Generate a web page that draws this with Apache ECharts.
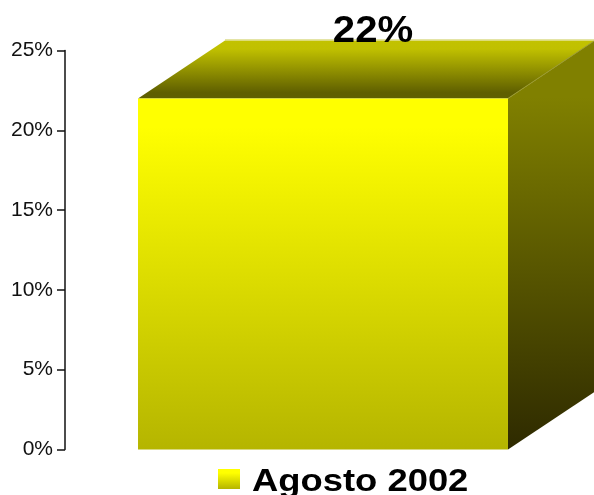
<!DOCTYPE html>
<html><head><meta charset="utf-8">
<style>html,body{margin:0;padding:0;background:#fff}#c{width:594px;height:495px}</style>
<script src="https://cdn.jsdelivr.net/npm/echarts@6/dist/echarts.min.js"></script>
</head><body><div id="c"></div>
<script>
const categories = ['Agosto 2002'];
const values = [22];
const tickLabels = ['0%','5%','10%','15%','20%','25%'];
const seriesName = 'Agosto 2002';
const DX = 87, DY = 58;
const grad = (stops)=>new echarts.graphic.LinearGradient(0,0,0,1,stops.map(s=>({offset:s[0],color:s[1]})));
const frontFill = ()=>grad([[0,'#ffff00'],[0.08,'#ffff00'],[1,'#b5b500']]);
const chart = echarts.init(document.getElementById('c'), null, {renderer:'canvas'});
chart.setOption({
  animation:false,
  backgroundColor:'#fff',
  grid:{left:65,right:13,top:50.5,bottom:45.5,containLabel:false},
  graphic:[
    {type:'rect',shape:{x:218,y:469,width:22,height:20},style:{fill:grad([[0,'#ffff00'],[0.2,'#ffff00'],[1,'#b5b500']])}},
    {type:'text',x:252,y:482,scaleX:1.137,
      style:{text:seriesName,fontFamily:'Liberation Sans',fontWeight:'bold',fontSize:32,fill:'#000',align:'left',verticalAlign:'middle'}}
  ],
  xAxis:{type:'category',data:categories,axisLine:{show:false},axisTick:{show:false},axisLabel:{show:false},splitLine:{show:false}},
  yAxis:{type:'value',min:0,max:25,interval:5,
    axisLine:{show:true,lineStyle:{color:'#111',width:1.5}},
    axisTick:{show:true,length:8,lineStyle:{color:'#111',width:1.5}},
    axisLabel:{fontFamily:'Liberation Sans',fontSize:21,color:'#111',margin:12,padding:[4,0,0,0],
      formatter:(v)=>tickLabels[v/5]},
    splitLine:{show:false}},
  series:[{
    name:seriesName,type:'custom',clip:false,
    encode:{x:0,y:1},
    data:categories.map((c,i)=>[i,values[i]]),
    renderItem(params,api){
      const top=api.coord([api.value(0),api.value(1)]);
      const base=api.coord([api.value(0),0]);
      const w=api.size([1,0])[0]*0.717;
      const l=top[0]-w/2,r=top[0]+w/2,t=top[1],b=base[1];
      return {type:'group',children:[
        {type:'polygon',shape:{points:[[l,t],[l+DX,t-DY],[r+DX,t-DY],[r,t]]},
          style:{fill:grad([[0,'#c2c200'],[0.15,'#c0c000'],[0.9,'#5f5f00'],[1,'#5f5f00']])}},
        {type:'polygon',shape:{points:[[r,t],[r+DX,t-DY],[r+DX,b-DY],[r,b]]},
          style:{fill:grad([[0,'#808000'],[0.14,'#808000'],[1,'#2e2a00']])}},
        {type:'line',shape:{x1:r,y1:t,x2:r+DX,y2:t-DY},style:{stroke:'#9a9a30',lineWidth:1}},
        {type:'line',shape:{x1:l+DX,y1:t-DY-0.5,x2:r+DX,y2:t-DY-0.5},style:{stroke:'#d4d470',lineWidth:1}},
        {type:'rect',shape:{x:l,y:t,width:w,height:b-t},style:{fill:frontFill()}},
        {type:'text',z2:10,x:373,y:t-67,scaleX:1.07,
          style:{text:api.value(1)+'%',fontFamily:'Liberation Sans',fontWeight:'bold',fontSize:37.5,fill:'#000',align:'center',verticalAlign:'middle'}}
      ]};
    }
  }]
});
</script></body></html>
